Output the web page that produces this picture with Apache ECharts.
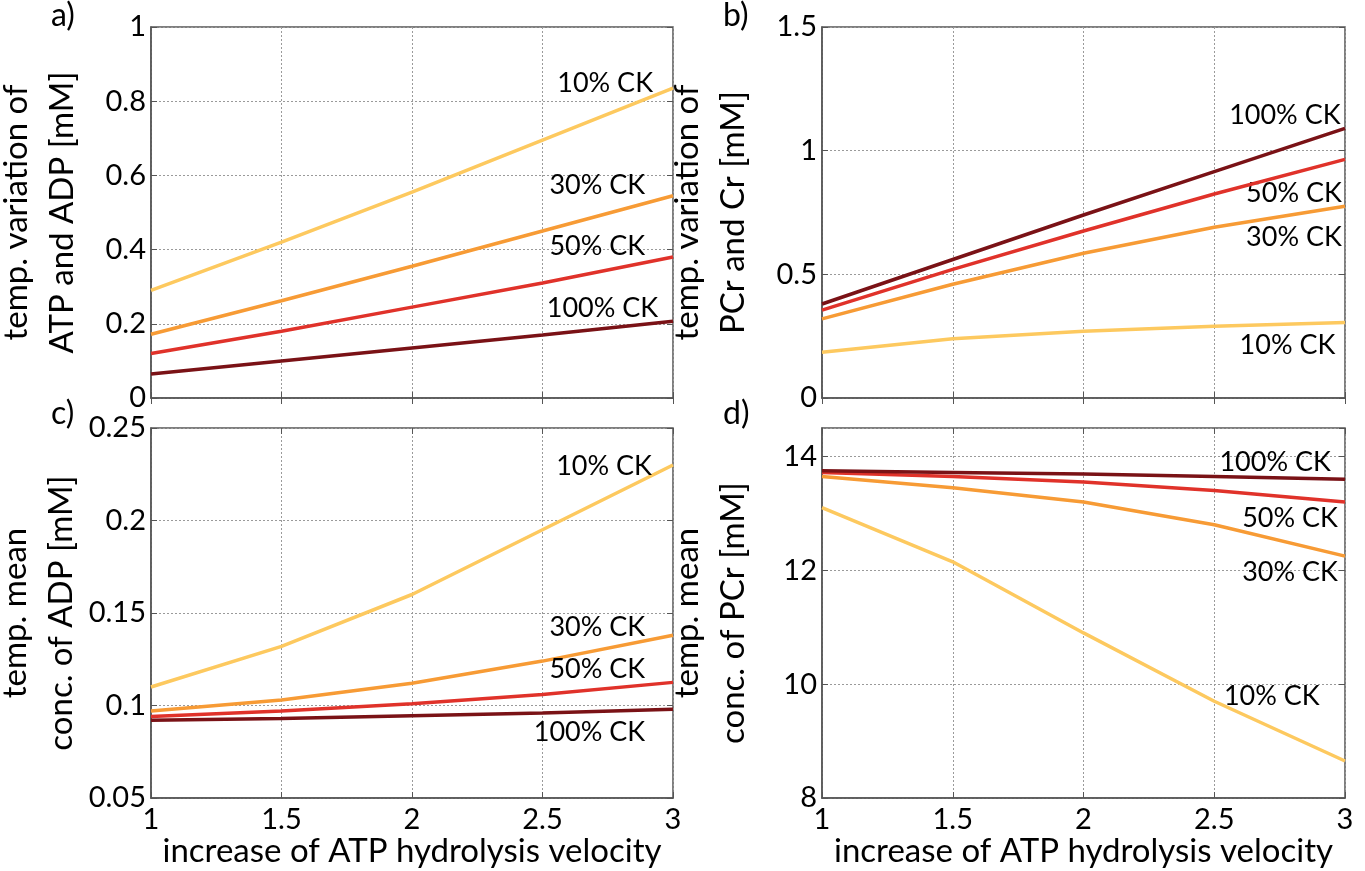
<!DOCTYPE html>
<html><head><meta charset="utf-8">
<script src="https://cdn.jsdelivr.net/npm/echarts@6/dist/echarts.min.js"></script>
<style>html,body{margin:0;padding:0;background:#fff}#c{width:1365px;height:871px}</style>
</head><body><div id="c"></div>
<script>
var xValues = [1, 1.5, 2, 2.5, 3];
var xTicks = ['1', '1.5', '2', '2.5', '3'];
var seriesNames = ['10% CK', '30% CK', '50% CK', '100% CK'];
var colors = ['#FDC95F', '#F79B35', '#E0322A', '#7A1216'];

// a) temp. variation of ATP and ADP [mM]
var a10 = [0.29, 0.42, 0.555, 0.695, 0.835];
var a30 = [0.172, 0.262, 0.355, 0.45, 0.545];
var a50 = [0.12, 0.18, 0.245, 0.31, 0.38];
var a100 = [0.065, 0.1, 0.135, 0.17, 0.207];
var aLabelPos = [[2.74, 0.849], [2.71, 0.574], [2.71, 0.41], [2.73, 0.243]];

// b) temp. variation of PCr and Cr [mM]
var b10 = [0.185, 0.24, 0.27, 0.29, 0.305];
var b30 = [0.32, 0.46, 0.585, 0.69, 0.775];
var b50 = [0.355, 0.52, 0.675, 0.825, 0.965];
var b100 = [0.38, 0.56, 0.74, 0.915, 1.09];
var bLabelPos = [[2.78, 0.214], [2.805, 0.651], [2.805, 0.829], [2.77, 1.144]];

// c) temp. mean conc. of ADP [mM]
var c10 = [0.11, 0.132, 0.16, 0.195, 0.23];
var c30 = [0.097, 0.103, 0.112, 0.124, 0.138];
var c50 = [0.094, 0.097, 0.101, 0.106, 0.1125];
var c100 = [0.092, 0.093, 0.0945, 0.096, 0.098];
var cLabelPos = [[2.736, 0.2295], [2.71, 0.1424], [2.71, 0.1197], [2.68, 0.0857]];

// d) temp. mean conc. of PCr [mM]
var d10 = [13.1, 12.15, 10.9, 9.7, 8.65];
var d30 = [13.65, 13.45, 13.2, 12.8, 12.25];
var d50 = [13.72, 13.65, 13.55, 13.4, 13.2];
var d100 = [13.75, 13.72, 13.69, 13.65, 13.6];
var dLabelPos = [[2.72, 9.79], [2.79, 11.96], [2.79, 12.91], [2.733, 13.89]];

var yA = {min: 0, max: 1, interval: 0.2, name: 'temp. variation of\nATP and ADP [mM]'};
var yB = {min: 0, max: 1.5, interval: 0.5, name: 'temp. variation of\nPCr and Cr [mM]'};
var yC = {min: 0.05, max: 0.25, interval: 0.05, name: 'temp. mean\nconc. of ADP [mM]'};
var yD = {min: 8, max: 14.5, interval: 2, name: 'temp. mean\nconc. of PCr [mM]'};
var panelLetters = ['a)', 'b)', 'c)', 'd)'];

var FONT = 'Lato';
var grids = [
  {left: 151, top: 27, width: 522, height: 371},
  {left: 822, top: 27, width: 523, height: 371},
  {left: 151, top: 428, width: 522, height: 370},
  {left: 822, top: 428, width: 523, height: 370}
];
grids.forEach(function (g) {
  g.show = true; g.borderColor = '#555'; g.borderWidth = 1.5; g.backgroundColor = 'rgba(0,0,0,0)';
  g.containLabel = false; g.outerBoundsMode = 'none';
});

var panels = [
  {y: yA, data: [a10, a30, a50, a100], lab: aLabelPos},
  {y: yB, data: [b10, b30, b50, b100], lab: bLabelPos},
  {y: yC, data: [c10, c30, c50, c100], lab: cLabelPos},
  {y: yD, data: [d10, d30, d50, d100], lab: dLabelPos}
];

var tickStyle = {show: true, inside: true, length: 6, lineStyle: {color: '#555', width: 1}};
var xAxes = [], yAxes = [], series = [];
panels.forEach(function (p, i) {
  var bottom = i >= 2;
  xAxes.push({
    type: 'value', gridIndex: i, min: 1, max: 3, interval: 0.5,
    axisLine: {show: true, lineStyle: {color: '#555', width: 1.5}},
    axisTick: tickStyle,
    splitLine: {show: true, lineStyle: {color: '#9a9a9a', type: [2, 2], width: 1}},
    axisLabel: {show: bottom, color: '#000', fontFamily: FONT, fontSize: 29, margin: 7,
      formatter: function (v) { var k = xValues.indexOf(v); return k >= 0 ? xTicks[k] : ''; }},
    name: bottom ? 'increase of ATP hydrolysis velocity' : '',
    nameLocation: 'middle', nameGap: 36,
    nameTextStyle: {color: '#000', fontFamily: FONT, fontSize: 33}
  });
  yAxes.push({
    type: 'value', gridIndex: i, min: p.y.min, max: p.y.max, interval: p.y.interval,
    axisLine: {show: true, lineStyle: {color: '#555', width: 1.5}},
    axisTick: tickStyle,
    splitLine: {show: true, lineStyle: {color: '#9a9a9a', type: [2, 2], width: 1}},
    axisLabel: {color: '#000', fontFamily: FONT, fontSize: 29, margin: 5, showMaxLabel: i !== 3},
    name: p.y.name, nameLocation: 'middle', nameGap: 66, nameRotate: 90,
    nameTextStyle: {color: '#000', fontFamily: FONT, fontSize: 33, lineHeight: 46}
  });
  p.data.forEach(function (vals, k) {
    series.push({
      type: 'line', xAxisIndex: i, yAxisIndex: i, name: seriesNames[k],
      data: xValues.map(function (x, j) { return [x, vals[j]]; }),
      showSymbol: false, symbol: 'none', smooth: false,
      lineStyle: {color: colors[k], width: 3.5}, z: 3 + k,
      markPoint: {
        symbol: 'circle', symbolSize: 0, silent: true,
        label: {show: true, position: 'inside', color: '#000', fontFamily: FONT, fontSize: 27,
          formatter: seriesNames[k]},
        data: [{coord: p.lab[k], value: seriesNames[k]}]
      }
    });
  });
});
// mirrored tick-only axes on top and right (box ticks)
panels.forEach(function (p, i) {
  xAxes.push({type: 'value', gridIndex: i, position: 'top', min: 1, max: 3, interval: 0.5,
    axisLine: {show: false}, axisTick: tickStyle, axisLabel: {show: false}, splitLine: {show: false}});
  yAxes.push({type: 'value', gridIndex: i, position: 'right', min: p.y.min, max: p.y.max, interval: p.y.interval,
    axisLine: {show: false}, axisTick: tickStyle, axisLabel: {show: false}, splitLine: {show: false}});
});

var graphics = panelLetters.map(function (t, i) {
  return {type: 'text', left: (i % 2) ? 723 : 51, top: i < 2 ? 0 : 398,
    style: {text: t, font: '32px ' + FONT, fill: '#000'}};
});

var chart = echarts.init(document.getElementById('c'));
chart.setOption({
  animation: false,
  backgroundColor: '#fff',
  grid: grids, xAxis: xAxes, yAxis: yAxes, series: series, graphic: graphics
});
</script></body></html>
